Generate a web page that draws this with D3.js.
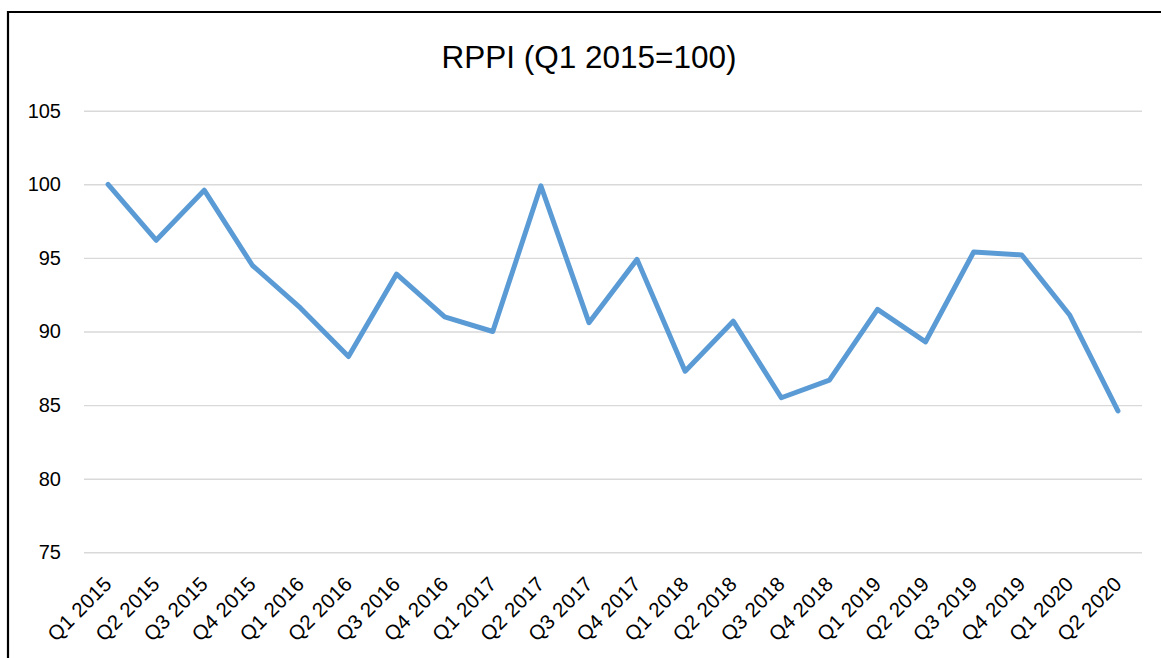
<html>
<head>
<script src="https://d3js.org/d3.v7.min.js"></script>
<style>
  body { margin: 0; background: #fff; }
  svg { display: block; }
</style>
</head>
<body>
<script type="text/javascript">

// quarters on the x axis
var quarters = ["Q1 2015", "Q2 2015", "Q3 2015", "Q4 2015",
                "Q1 2016", "Q2 2016", "Q3 2016", "Q4 2016",
                "Q1 2017", "Q2 2017", "Q3 2017", "Q4 2017",
                "Q1 2018", "Q2 2018", "Q3 2018", "Q4 2018",
                "Q1 2019", "Q2 2019", "Q3 2019", "Q4 2019",
                "Q1 2020", "Q2 2020"];

// index values (Q1 2015 = 100)
var rppi = [100, 96.2, 99.6, 94.5,
            91.6, 88.3, 93.9, 91.0,
            90.0, 99.9, 90.6, 94.9,
            87.3, 90.7, 85.5, 86.7,
            91.5, 89.3, 95.4, 95.2,
            91.1, 84.6];

var yTicks = [75, 80, 85, 90, 95, 100, 105];
var title = "RPPI (Q1 2015=100)";

var W = 1161, H = 658;
// plot area edges (note: "top" is taken by window.top, so use other names)
var plotL = 84, plotR = 1142, plotT = 110.7, plotB = 552.3;

var svg = d3.select("body").append("svg")
	.attr("width", W)
	.attr("height", H);

// chart frame (only left and top edges show in the crop)
svg.append("path")
	.attr("d", "M8," + (H + 5) + "V12H" + (W + 5))
	.attr("fill", "none")
	.attr("stroke", "#000")
	.attr("stroke-width", 2.2);

var x = d3.scaleBand()
	.domain(quarters)
	.range([plotL, plotR])
	.padding(0);

var y = d3.scaleLinear()
	.domain([75, 105])
	.range([plotB, plotT]);

// gridlines + y labels
var yAxis = d3.axisLeft(y)
	.tickValues(yTicks)
	.tickSize(-(plotR - plotL))
	.tickPadding(23)
	.tickFormat(d3.format("d"));

var gy = svg.append("g")
	.attr("transform", "translate(" + plotL + ",0)")
	.call(yAxis);
gy.select(".domain").remove();
gy.selectAll(".tick line")
	.attr("stroke", "#d9d9d9")
	.attr("stroke-width", 1.4);
gy.selectAll(".tick text")
	.attr("fill", "#000")
	.style("font-family", "'Liberation Sans', Arial, sans-serif")
	.style("font-size", "20px");

// x labels, rotated
var xAxis = d3.axisBottom(x).tickSize(0).tickPadding(0);
var gx = svg.append("g")
	.attr("transform", "translate(0," + plotB + ")")
	.call(xAxis);
gx.select(".domain").remove();
gx.selectAll(".tick text")
	.attr("fill", "#000")
	.attr("text-anchor", "end")
	.attr("dy", 0)
	.attr("y", 0)
	.attr("transform", "translate(5,33) rotate(-45)")
	.style("font-family", "'Liberation Sans', Arial, sans-serif")
	.style("font-size", "20.5px")
	.style("letter-spacing", "0.3px");

// the line
var line = d3.line()
	.x(function(d, i) { return x(quarters[i]) + x.bandwidth() / 2; })
	.y(function(d) { return y(d); });

svg.append("path")
	.datum(rppi)
	.attr("d", line)
	.attr("fill", "none")
	.attr("stroke", "#5b9bd5")
	.attr("stroke-width", 5)
	.attr("stroke-linejoin", "round")
	.attr("stroke-linecap", "round");

// title
svg.append("text")
	.attr("x", 589)
	.attr("y", 68)
	.attr("text-anchor", "middle")
	.style("font-family", "'Liberation Sans', Arial, sans-serif")
	.style("font-size", "31.5px")
	.text(title);

</script>
</body>
</html>
